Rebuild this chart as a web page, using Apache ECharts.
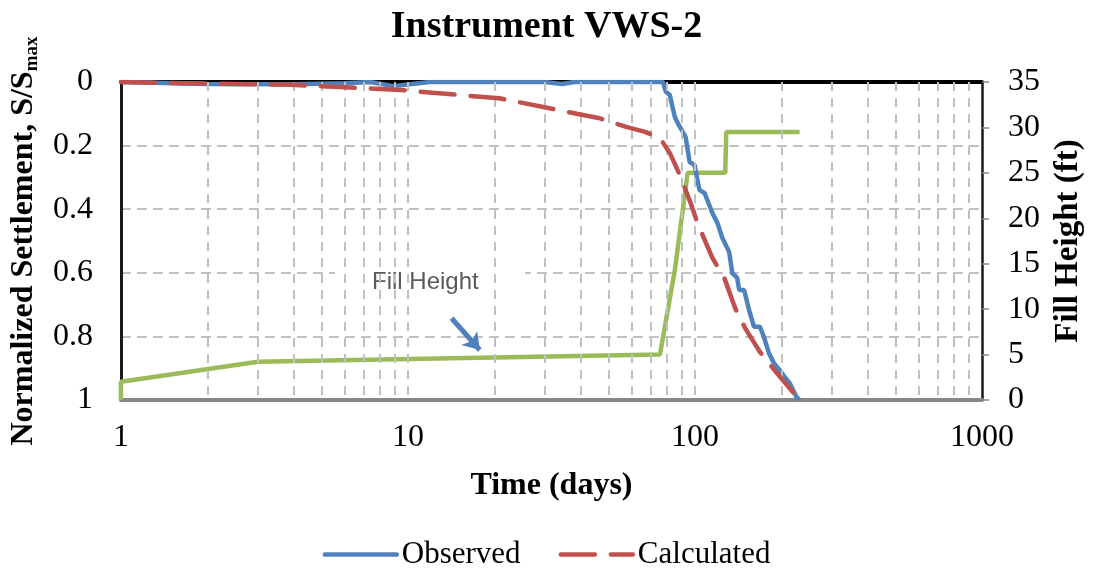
<!DOCTYPE html>
<html><head><meta charset="utf-8">
<script src="https://cdn.jsdelivr.net/npm/echarts@6/dist/echarts.min.js"></script>
<style>html,body{margin:0;padding:0;background:#fff}#c{width:1093px;height:575px}</style>
</head><body><div id="c"></div>
<script>
// ---- data ----
var observedT = [1, 2, 4, 6, 7.4, 8.9, 11.9, 30, 34.4, 38, 77.3, 79.2, 81.7, 85.1, 87.1, 92.8, 95.8, 99.7, 102, 103.7, 108, 115, 119.7, 124.5, 131.6, 134.9, 140.3, 142.6, 148.4, 154.3, 160.6, 168.4, 173.9, 180.9, 188.3, 197.5, 205.5, 213.8, 226.1, 231.5];
var observedS = [0, 0.006, 0.007, 0.004, 0.0, 0.013, 0.0, 0.0, 0.006, 0.0, 0.0, 0.031, 0.041, 0.11, 0.129, 0.173, 0.252, 0.261, 0.308, 0.34, 0.349, 0.412, 0.443, 0.49, 0.535, 0.601, 0.616, 0.654, 0.654, 0.717, 0.77, 0.77, 0.802, 0.852, 0.884, 0.906, 0.928, 0.947, 0.991, 1.0];
var calcT = [1, 1.48, 2.49, 3.92, 5.52, 9.4, 12.2, 20.8, 35.5, 46.1, 57.6, 67, 75.5, 81.7, 88.5, 96.6, 102, 115, 126.5, 138, 149.5, 168.4, 192.8, 231.5];
var calcS = [0, 0.003, 0.006, 0.009, 0.015, 0.025, 0.034, 0.051, 0.093, 0.113, 0.141, 0.157, 0.176, 0.223, 0.292, 0.381, 0.443, 0.553, 0.616, 0.711, 0.774, 0.849, 0.915, 1.0];
var fillT = [1, 1, 3, 75.5, 85.1, 94.3, 127.5, 128.5, 231.5];
var fillH = [0, 2.0, 4.2, 5.0, 14.3, 25, 25, 29.5, 29.5];
var xTicks = [1, 10, 100, 1000];
var yLeftTicks = [0, 0.2, 0.4, 0.6, 0.8, 1];
var yRightTicks = [0, 5, 10, 15, 20, 25, 30, 35];
var gridX = [2,3,4,5,6,7,8,9,10,20,30,40,50,60,70,80,90,100,200,300,400,500,600,700,800,900];
var arrowFrom = [14.2, 9.0], arrowTo = [17.8, 5.5];

function pairs(a, b) { return a.map(function (v, i) { return [v, b[i]]; }); }

var serif = 'Liberation Serif';
var chart = echarts.init(document.getElementById('c'), null, { renderer: 'canvas' });
chart.setOption({
  animation: false,
  backgroundColor: '#fff',
  title: {
    text: 'Instrument VWS-2', left: 'center', top: 3,
    textStyle: { fontFamily: serif, fontWeight: 'bold', fontSize: 38, color: '#000' }
  },
  legend: {
    data: ['Observed', 'Calculated'], bottom: 0, left: 'center',
    itemWidth: 72, itemHeight: 14, itemGap: 38,
    itemStyle: { opacity: 0, borderWidth: 0 },
    lineStyle: { width: 4.5, cap: 'round' },
    textStyle: { fontFamily: serif, fontSize: 31, color: '#000' }
  },
  grid: { left: 118, right: 106, top: 82, bottom: 175, containLabel: false },
  xAxis: [{
    type: 'log', logBase: 10, min: xTicks[0], max: xTicks[xTicks.length - 1], position: 'bottom',
    name: 'Time (days)', nameLocation: 'middle', nameGap: 70,
    nameTextStyle: { fontFamily: serif, fontWeight: 'bold', fontSize: 32, color: '#000' },
    axisLine: { show: true, onZero: false, lineStyle: { color: '#878787', width: 4 } },
    axisTick: { show: false },
    axisLabel: { fontFamily: serif, fontSize: 32, color: '#000', margin: 22, formatter: function (v) { return String(Math.round(v)); } },
    splitLine: { show: false }
  }, {
    type: 'log', logBase: 10, min: xTicks[0], max: xTicks[xTicks.length - 1], position: 'top',
    axisLine: { show: true, onZero: false, lineStyle: { color: '#000', width: 4 } },
    axisTick: { show: false }, axisLabel: { show: false }, splitLine: { show: false }
  }],
  yAxis: [{
    type: 'value', inverse: true, min: 0, max: 1, interval: 0.2, position: 'left',
    name: '{a|Normalized Settlement, S/S}{b|max}', nameLocation: 'middle', nameGap: 78, nameRotate: 90,
    nameTextStyle: {
      rich: {
        a: { fontFamily: serif, fontWeight: 'bold', fontSize: 32, color: '#000', lineHeight: 36, verticalAlign: 'middle' },
        b: { fontFamily: serif, fontWeight: 'bold', fontSize: 19, color: '#000', lineHeight: 36, verticalAlign: 'bottom', padding: [15, 0, 0, 0] }
      }
    },
    axisLine: { show: true, onZero: false, lineStyle: { color: '#1a1a1a', width: 3 } },
    axisTick: { show: false },
    axisLabel: { fontFamily: serif, fontSize: 32, color: '#000', margin: 28, formatter: function (v) { return String(+v.toFixed(1)); } },
    splitLine: { show: true, lineStyle: { color: '#c0c0c0', width: 2, type: [10, 6] } }
  }, {
    type: 'value', min: yRightTicks[0], max: yRightTicks[yRightTicks.length - 1], interval: 5, position: 'right',
    name: 'Fill Height (ft)', nameLocation: 'middle', nameGap: 70, nameRotate: 90,
    nameTextStyle: { fontFamily: serif, fontWeight: 'bold', fontSize: 33, color: '#000' },
    axisLine: { show: true, onZero: false, lineStyle: { color: '#1a1a1a', width: 2.5 } },
    axisTick: { show: true, length: 7, lineStyle: { color: '#888', width: 1.5 } },
    axisLabel: { fontFamily: serif, fontSize: 32, color: '#000', margin: 26 },
    splitLine: { show: false }
  }],
  graphic: [
    { type: 'rect', left: 335, top: 258, shape: { width: 190, height: 44 }, style: { fill: '#fff', stroke: null }, z: 3 },
    { type: 'text', left: 372, top: 270, z: 4,
      style: { text: 'Fill Height', fontFamily: 'Liberation Sans', fontSize: 24, fill: '#5a5a5a' } }
  ],
  series: [
    {
      name: 'grid', type: 'line', data: [[1, 0]], symbol: 'none', lineStyle: { opacity: 0 }, z: 1, silent: true,
      markLine: {
        silent: true, symbol: ['none', 'none'], label: { show: false },
        lineStyle: { color: '#c0c0c0', width: 2, type: [9, 7] },
        data: gridX.map(function (v) { return { xAxis: v }; })
      }
    },
    {
      name: 'Fill Height', type: 'line', yAxisIndex: 1, data: pairs(fillT, fillH), symbol: 'none',
      lineStyle: { color: '#9BBB59', width: 4.5 }, z: 3,
      markLine: {
        silent: true, symbol: ['none', 'arrow'], symbolSize: [16, 16], label: { show: false },
        lineStyle: { color: '#4F81BD', width: 5, type: 'solid' },
        data: [[{ coord: arrowFrom }, { coord: arrowTo }]]
      }
    },
    {
      name: 'Observed', type: 'line', data: pairs(observedT, observedS), symbol: 'none',
      lineStyle: { color: '#4F81BD', width: 4.5 }, itemStyle: { color: '#4F81BD' }, z: 4
    },
    {
      name: 'Calculated', type: 'line', data: pairs(calcT, calcS), symbol: 'none', smooth: false,
      lineStyle: { color: '#C0504D', width: 4.5, type: [34, 16], cap: 'round' }, itemStyle: { color: '#C0504D' }, z: 5
    }
  ]
});
</script></body></html>
